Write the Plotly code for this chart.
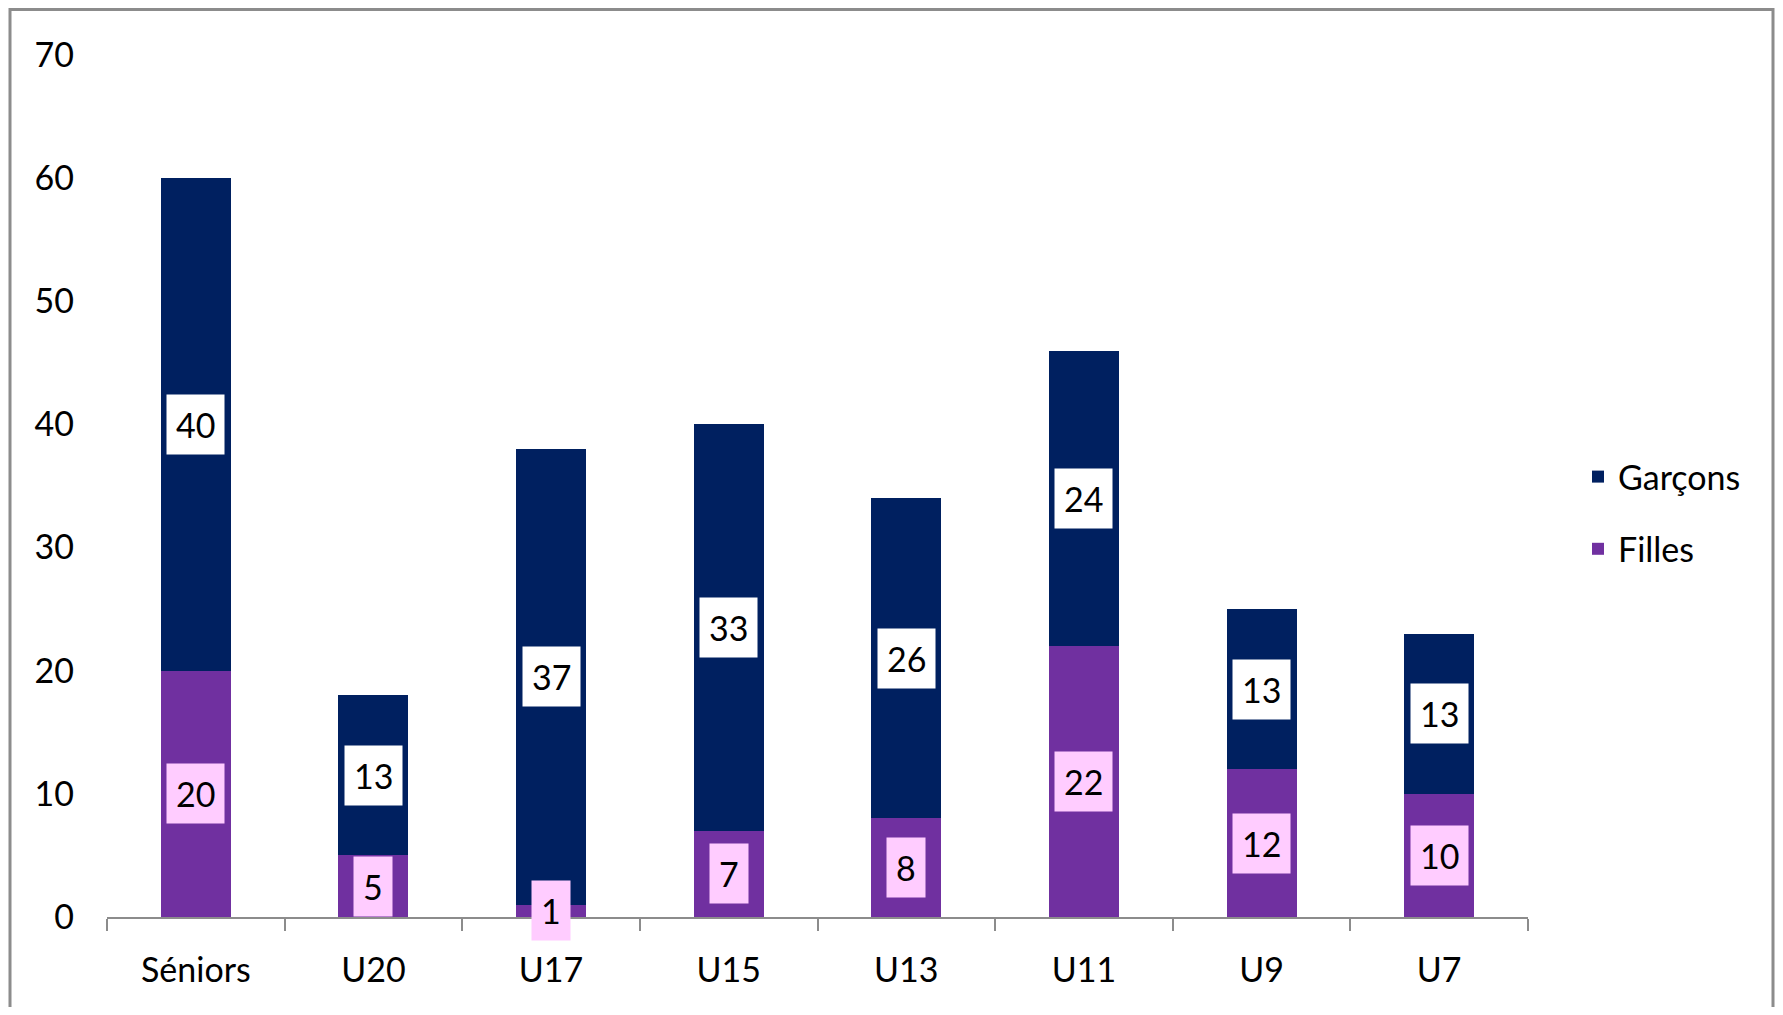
import plotly.graph_objects as go

categories = ["Séniors", "U20", "U17", "U15", "U13", "U11", "U9", "U7"]
filles = [20, 5, 1, 7, 8, 22, 12, 10]
garcons = [40, 13, 37, 33, 26, 24, 13, 13]
y_ticks = [0, 10, 20, 30, 40, 50, 60, 70]

# page has an 8px body margin: figure pixel = page pixel - 8
OFF = 8
W, H = 1783 - 2 * OFF, 1015 - 2 * OFF
ML = 107 - OFF
MT = 55 - OFF
MR = W - (1528 - OFF)
MB = H - (917 - OFF)
PW, PH = W - ML - MR, H - MT - MB

FONT = "Lato, 'Open Sans', sans-serif"
FS = 34
C_G = "#002060"
C_F = "#7030A0"

fig = go.Figure()
fig.add_trace(go.Bar(x=categories, y=filles, name="Filles", marker_color=C_F,
                     marker_line_width=0, legendgroup="f", legendrank=2, hoverinfo="x+y"))
fig.add_trace(go.Bar(x=categories, y=garcons, name="Garçons", marker_color=C_G,
                     marker_line_width=0, legendgroup="g", legendrank=1, hoverinfo="x+y"))

annotations = []
for c, f, g in zip(categories, filles, garcons):
    annotations.append(dict(x=c, y=f / 2, xref="x", yref="y", text=str(f), showarrow=False,
                            font=dict(family=FONT, size=FS, color="black"),
                            bgcolor="#FFCCFF", borderpad=9))
    annotations.append(dict(x=c, y=f + g / 2, xref="x", yref="y", text=str(g), showarrow=False,
                            font=dict(family=FONT, size=FS, color="black"),
                            bgcolor="white", borderpad=9))

def px_x(p):
    return (p - OFF - ML) / PW

def px_y(p):
    return (H - MB - (p - OFF)) / PH

fig.update_layout(
    width=W, height=H,
    margin=dict(l=ML, r=MR, t=MT, b=MB, pad=0),
    paper_bgcolor="white", plot_bgcolor="white",
    barmode="stack", bargap=0.606,
    font=dict(family=FONT, size=FS, color="black"),
    showlegend=True,
    legend=dict(x=px_x(1578), xanchor="left", y=px_y(513), yanchor="middle",
                traceorder="grouped", tracegroupgap=25,
                font=dict(family=FONT, size=FS, color="black"),
                bgcolor="rgba(0,0,0,0)"),
    annotations=annotations,
    shapes=[dict(type="rect", xref="paper", yref="paper",
                 x0=px_x(10), x1=px_x(1773), y0=px_y(1040), y1=px_y(9.5),
                 line=dict(color="#8c8c8c", width=3), fillcolor="rgba(0,0,0,0)", layer="below")],
)
fig.update_xaxes(type="category", range=[-0.5, 7.5], showline=True, linecolor="#8c8c8c", linewidth=1.5,
                 ticks="outside", tickson="boundaries", ticklen=12, tickcolor="#8c8c8c", tickwidth=1.5,
                 showgrid=False, zeroline=False, ticklabelstandoff=22,
                 tickfont=dict(family=FONT, size=FS, color="black"))
fig.update_yaxes(range=[0, 70], tickvals=y_ticks, showline=False, showgrid=False, zeroline=False,
                 ticks="", ticklabelstandoff=32,
                 tickfont=dict(family=FONT, size=FS, color="black"))

fig.write_html("out.html")
